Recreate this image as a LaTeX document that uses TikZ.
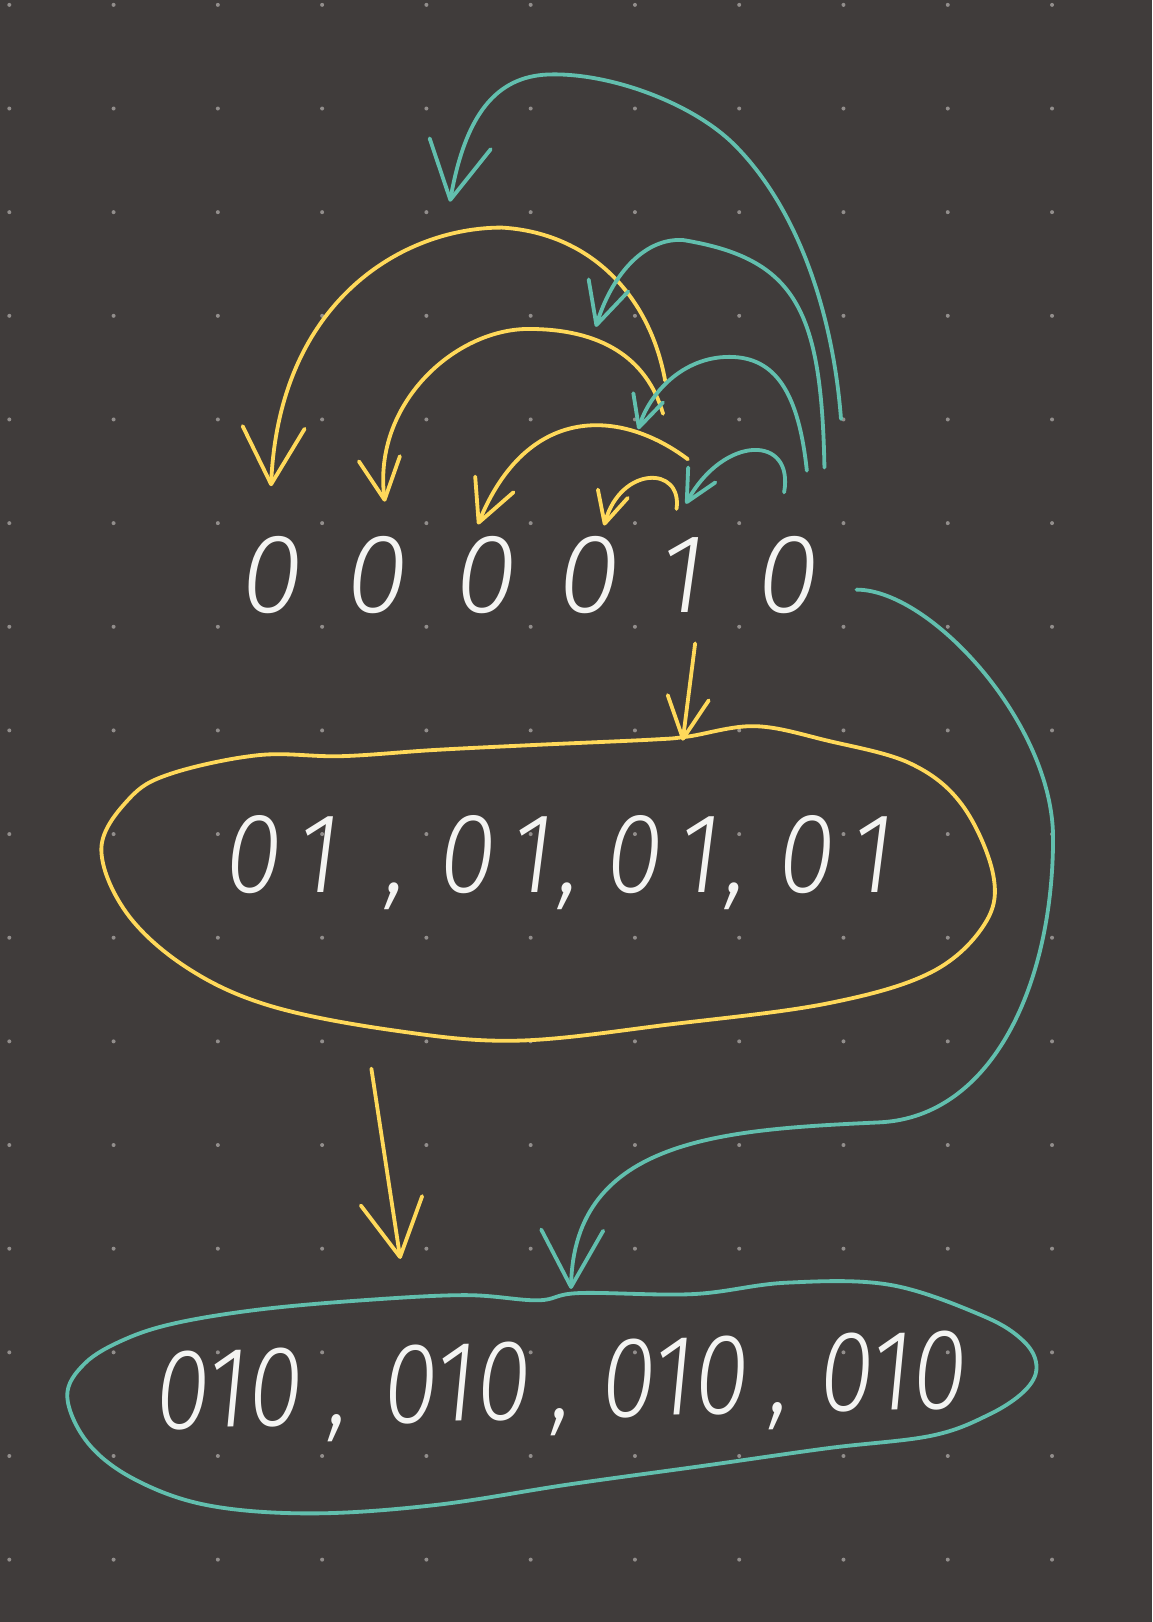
\documentclass[tikz,border=0pt]{standalone}
\usepackage{fontspec}
\newfontfamily\handfont{Fira Sans}[UprightFont=* Light, ItalicFont=* Light Italic]
\usetikzlibrary{arrows.meta,shapes.geometric}
\definecolor{board}{HTML}{403C3B}
\definecolor{griddot}{HTML}{928E8C}
\definecolor{chalk}{HTML}{F4F4F2}
\definecolor{hlyellow}{HTML}{FFD95A}
\definecolor{hlteal}{HTML}{62BFAE}
\newcommand\bitpair{0\kern.15em1}
\tikzset{
  stroke/.style={line width=2.1pt, line cap=round, line join=round},
  yarc/.style={stroke, draw=hlyellow},
  tarc/.style={stroke, draw=hlteal},
  tipL/.style={-{Straight Barb[length=11mm,width=12mm,round]}},
  tipM/.style={-{Straight Barb[length=8mm,width=8mm,round]}},
  tipS/.style={-{Straight Barb[length=6mm,width=6mm,round]}},
  digit/.style={text=chalk, inner sep=0pt, font=\handfont\itshape\fontsize{62}{62}\selectfont},
  grouptext/.style={text=chalk, inner sep=0pt, font=\handfont\itshape\fontsize{#1}{#1}\selectfont}
}
\begin{document}
\begin{tikzpicture}[x=0.02cm, y=-0.02cm]
  \fill[board] (0,0) rectangle (1114,1568);
  \useasboundingbox (0,0) rectangle (1114,1568);
  % dot grid
  \foreach \i in {0,...,10}
    \foreach \j in {0,...,15}
      \fill[griddot] (9+100.8*\i, 4.7+100.2*\j) circle[radius=1.1pt];

  % the bits
  \foreach \n/\x/\v in {1/263/0, 2/365/0, 3/470/0, 4/570/0, 5/660/1, 6/762/0}
    \node[digit] (d\n) at (\x,556) {\v};

  % groups
  \node[grouptext=57] (pairs) at (541,834)
    {\scalebox{1}[1.1]{\bitpair\hspace{.45em},\hspace{.3em}\bitpair\kern.05em,\hspace{.25em}\bitpair\kern.05em,\hspace{.3em}\bitpair}};
  \draw[yarc] plot[smooth cycle, tension=0.6] coordinates {
    (98,820) (125,772) (165,748) (250,730) (330,731) (420,725) (520,720) (630,715)
    (665,712) (730,702) (800,716) (880,738) (930,778) (960,845) (952,893) (900,940)
    (800,970) (650,990) (500,1006) (380,996) (260,972) (180,935) (122,882)};

  \node[grouptext=55, rotate=1.5] (triples) at (543,1342)
    {\scalebox{1}[1.15]{010\hspace{.25em},\hspace{.35em}010\hspace{.2em},\hspace{.3em}010\hspace{.2em},\hspace{.3em}010}};
  \draw[tarc] plot[smooth cycle, tension=0.6] coordinates {
    (65,1350) (82,1318) (120,1295) (170,1279) (250,1266) (350,1257) (450,1252)
    (520,1257) (560,1250) (670,1251) (760,1240) (860,1242) (950,1272) (990,1297)
    (1002,1322) (990,1345) (955,1368) (900,1388) (800,1400) (680,1417) (550,1435)
    (420,1455) (300,1463) (200,1455) (130,1430) (85,1395)};

  % arc ends
  \coordinate (t1a) at (813,405); \coordinate (t1b) at (435,195);
  \coordinate (t2a) at (797,452); \coordinate (t2b) at (576,316);
  \coordinate (t3a) at (780,455); \coordinate (t3b) at (617,415);
  \coordinate (t4a) at (758,476); \coordinate (t4b) at (663,487);
  \coordinate (y1a) at (643,368); \coordinate (y1b) at (262,470);
  \coordinate (y2a) at (641,400); \coordinate (y2b) at (372,485);
  \coordinate (y3a) at (665,444); \coordinate (y3b) at (462,507);
  \coordinate (y4a) at (654,492); \coordinate (y4b) at (584,508);
  \coordinate (y5a) at (672,622); \coordinate (y5b) at (660,716);
  \coordinate (y6a) at (359,1033); \coordinate (y6b) at (387,1217);
  \coordinate (t5a) at (828,570); \coordinate (t5b) at (552,1246);

  % yellow arcs
  \draw[yarc, tipL] (y1a) .. controls (628,285) and (570,225) .. (485,220)
    .. controls (390,220) and (270,290) .. (y1b);
  \draw[yarc, tipM] (y2a) .. controls (625,345) and (580,318) .. (511,318)
    .. controls (440,318) and (360,390) .. (y2b);
  \draw[yarc, tipM] (y3a) .. controls (600,395) and (510,390) .. (y3b);
  \draw[yarc, tipS] (y4a) .. controls (660,450) and (600,450) .. (y4b);
  \draw[yarc, tipM] (y5a) -- (y5b);
  \draw[yarc, tipL] (y6a) -- (y6b);

  % teal arcs
  \draw[tarc, tipL] (t1a) .. controls (805,300) and (770,200) .. (710,140)
    .. controls (670,100) and (590,70) .. (530,72)
    .. controls (480,74) and (450,110) .. (t1b);
  \draw[tarc, tipM] (t2a) .. controls (794,300) and (770,250) .. (660,232)
    .. controls (620,230) and (590,270) .. (t2b);
  \draw[tarc, tipS] (t3a) .. controls (772,380) and (750,345) .. (705,345)
    .. controls (660,345) and (628,380) .. (t3b);
  \draw[tarc, tipS] (t4a) .. controls (768,420) and (700,420) .. (t4b);
  \draw[tarc, tipL] (t5a) .. controls (900,570) and (1018,700) .. (1018,810)
    .. controls (1018,950) and (960,1080) .. (850,1085)
    .. controls (700,1092) and (555,1100) .. (t5b);
\end{tikzpicture}
\end{document}
